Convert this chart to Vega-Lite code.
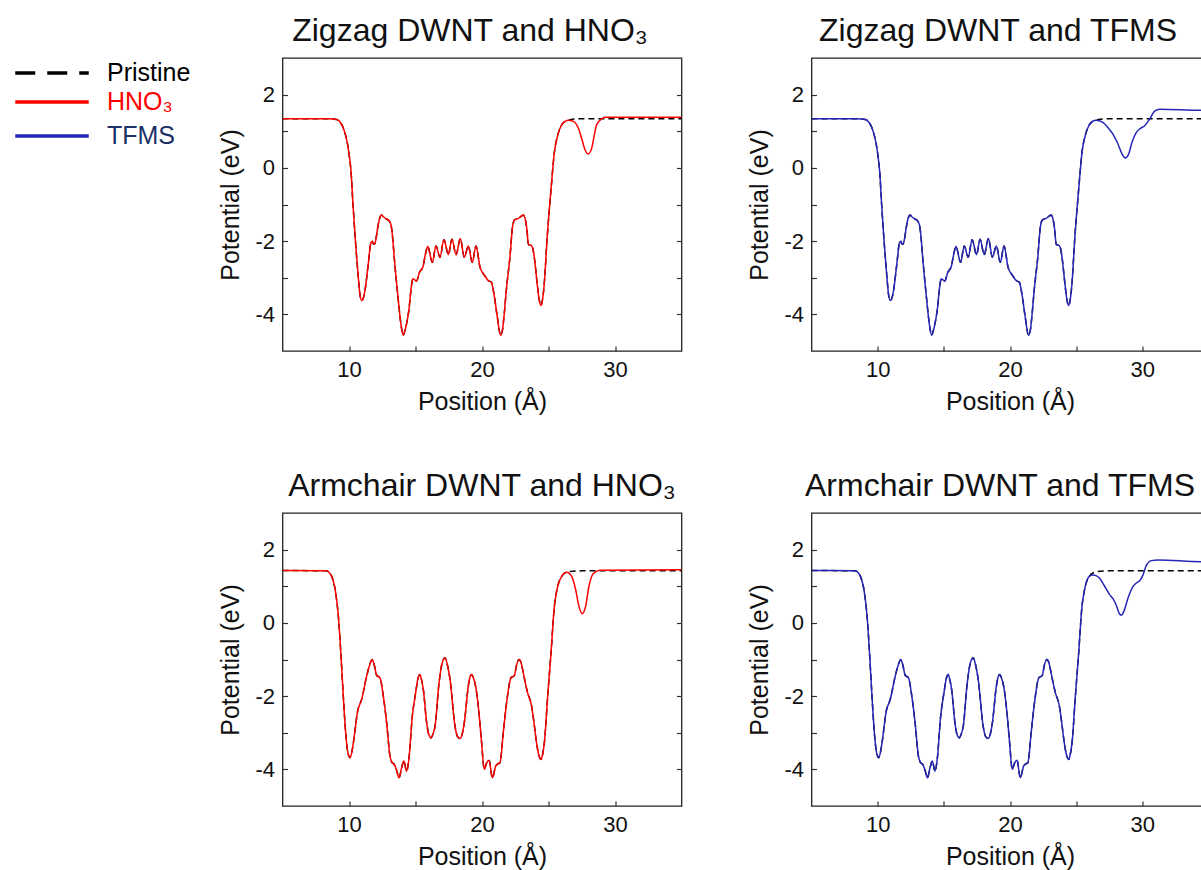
{
  "$schema": "https://vega.github.io/schema/vega-lite/v6.json",
  "autosize": {"type": "pad"},
  "padding": {"left": 36.5, "top": 14, "right": 0, "bottom": 0},
  "background": "white",
  "config": {
    "font": "Liberation Sans",
    "view": {"stroke": "#222222", "strokeWidth": 1.3},
    "axis": {
      "grid": false, "domain": false,
      "labelFont": "Liberation Sans", "titleFont": "Liberation Sans",
      "labelFontSize": 22, "titleFontSize": 25, "titleFontWeight": "normal",
      "labelColor": "#111111", "titleColor": "#111111",
      "tickColor": "#333333", "tickSize": -5, "tickWidth": 1.2
    },
    "legend": {"title": null, "orient": "none", "padding": 0, "symbolType": "M-3,0H3", "symbolSize": 600, "symbolStrokeWidth": 3.5, "labelFont": "Liberation Sans", "labelFontSize": 25, "labelOffset": 41},
    "title": {"font": "Liberation Sans", "fontSize": 32, "fontWeight": "normal", "color": "#111111", "offset": 10, "frame": "group"}
  },
  "datasets": {
    "zz": [
      {"x":5,"y":1.34,"g":"c"},{"x":8.5,"y":1.34,"g":"c"},{"x":9.07,"y":1.32,"g":"c"},{"x":9.35,"y":1.24,"g":"c"},{"x":9.57,"y":1.09,"g":"c"},{"x":9.75,"y":0.88,"g":"c"},{"x":9.9,"y":0.63,"g":"c"},{"x":10.05,"y":0.25,"g":"c"},{"x":10.15,"y":-0.09,"g":"c"},{"x":10.3,"y":-1.0,"g":"c"},{"x":10.5,"y":-2.08,"g":"c"},{"x":10.7,"y":-2.99,"g":"c"},{"x":10.82,"y":-3.45,"g":"c"},{"x":10.95,"y":-3.62,"g":"c"},{"x":11.08,"y":-3.55,"g":"c"},{"x":11.2,"y":-3.35,"g":"c"},{"x":11.45,"y":-2.62,"g":"c"},{"x":11.65,"y":-2.04,"g":"c"},{"x":11.75,"y":-2.0,"g":"c"},{"x":11.83,"y":-2.08,"g":"c"},{"x":11.92,"y":-2.08,"g":"c"},{"x":12.0,"y":-1.99,"g":"c"},{"x":12.2,"y":-1.54,"g":"c"},{"x":12.35,"y":-1.33,"g":"c"},{"x":12.45,"y":-1.29,"g":"c"},{"x":12.6,"y":-1.34,"g":"c"},{"x":12.83,"y":-1.4,"g":"c"},{"x":13.0,"y":-1.44,"g":"c"},{"x":13.16,"y":-1.56,"g":"c"},{"x":13.28,"y":-1.9,"g":"c"},{"x":13.4,"y":-2.44,"g":"c"},{"x":13.66,"y":-3.44,"g":"c"},{"x":13.9,"y":-4.25,"g":"c"},{"x":14.08,"y":-4.57,"g":"c"},{"x":14.2,"y":-4.45,"g":"c"},{"x":14.33,"y":-4.25,"g":"c"},{"x":14.5,"y":-3.89,"g":"c"},{"x":14.7,"y":-3.21,"g":"c"},{"x":14.8,"y":-3.03,"g":"c"},{"x":14.92,"y":-3.05,"g":"c"},{"x":15.07,"y":-3.09,"g":"c"},{"x":15.3,"y":-2.85,"g":"c"},{"x":15.56,"y":-2.7,"g":"c"},{"x":15.75,"y":-2.35,"g":"c"},{"x":15.92,"y":-2.15,"g":"c"},{"x":16.27,"y":-2.58,"g":"c"},{"x":16.54,"y":-2.13,"g":"c"},{"x":16.84,"y":-2.44,"g":"c"},{"x":17.14,"y":-1.96,"g":"c"},{"x":17.47,"y":-2.37,"g":"c"},{"x":17.74,"y":-1.95,"g":"c"},{"x":18.05,"y":-2.37,"g":"c"},{"x":18.37,"y":-1.93,"g":"c"},{"x":18.67,"y":-2.44,"g":"c"},{"x":18.97,"y":-2.13,"g":"c"},{"x":19.27,"y":-2.58,"g":"c"},{"x":19.55,"y":-2.13,"g":"c"},{"x":19.85,"y":-2.71,"g":"c"},{"x":20.2,"y":-2.94,"g":"c"},{"x":20.48,"y":-3.08,"g":"c"},{"x":20.7,"y":-3.12,"g":"c"},{"x":20.9,"y":-3.44,"g":"c"},{"x":21.15,"y":-4.07,"g":"c"},{"x":21.4,"y":-4.57,"g":"c"},{"x":21.55,"y":-4.4,"g":"c"},{"x":21.65,"y":-4.07,"g":"c"},{"x":21.85,"y":-3.26,"g":"c"},{"x":22.1,"y":-2.44,"g":"c"},{"x":22.3,"y":-1.6,"g":"c"},{"x":22.45,"y":-1.42,"g":"c"},{"x":22.73,"y":-1.38,"g":"c"},{"x":22.95,"y":-1.32,"g":"c"},{"x":23.1,"y":-1.29,"g":"c"},{"x":23.25,"y":-1.4,"g":"c"},{"x":23.36,"y":-1.63,"g":"c"},{"x":23.5,"y":-2.1,"g":"c"},{"x":23.6,"y":-2.1,"g":"c"},{"x":23.73,"y":-2.13,"g":"c"},{"x":23.85,"y":-2.25,"g":"c"},{"x":23.93,"y":-2.44,"g":"c"},{"x":24.18,"y":-3.26,"g":"c"},{"x":24.3,"y":-3.6,"g":"c"},{"x":24.43,"y":-3.76,"g":"c"},{"x":24.55,"y":-3.6,"g":"c"},{"x":24.68,"y":-3.17,"g":"c"},{"x":24.9,"y":-1.9,"g":"c"},{"x":25.2,"y":-0.54,"g":"c"},{"x":25.45,"y":0.45,"g":"c"},{"x":25.7,"y":0.9,"g":"c"},{"x":26.0,"y":1.18,"g":"c"},{"x":26.25,"y":1.27,"g":"c"},{"x":26.5,"y":1.3,"g":"c"},
      {"x":26.8,"y":1.33,"g":"p"},{"x":27.3,"y":1.34,"g":"p"},{"x":35,"y":1.34,"g":"p"},
      {"x":26.87,"y":1.27,"g":"h"},{"x":27.24,"y":1.09,"g":"h"},{"x":27.49,"y":0.81,"g":"h"},{"x":27.74,"y":0.5,"g":"h"},{"x":27.99,"y":0.38,"g":"h"},{"x":28.25,"y":0.54,"g":"h"},{"x":28.45,"y":0.9,"g":"h"},{"x":28.62,"y":1.18,"g":"h"},{"x":29.0,"y":1.34,"g":"h"},{"x":29.25,"y":1.38,"g":"h"},{"x":35,"y":1.38,"g":"h"},
      {"x":27.02,"y":1.24,"g":"t"},{"x":27.4,"y":1.1,"g":"t"},{"x":27.78,"y":0.92,"g":"t"},{"x":28.16,"y":0.65,"g":"t"},{"x":28.46,"y":0.38,"g":"t"},{"x":28.71,"y":0.27,"g":"t"},{"x":28.97,"y":0.38,"g":"t"},{"x":29.22,"y":0.7,"g":"t"},{"x":29.55,"y":0.97,"g":"t"},{"x":29.87,"y":1.08,"g":"t"},{"x":30.18,"y":1.15,"g":"t"},{"x":30.55,"y":1.33,"g":"t"},{"x":30.93,"y":1.55,"g":"t"},{"x":31.31,"y":1.6,"g":"t"},{"x":34.46,"y":1.57,"g":"t"},{"x":35,"y":1.57,"g":"t"}
    ],
    "ac": [
      {"x":5,"y":1.43,"g":"c"},{"x":8.3,"y":1.42,"g":"c"},{"x":8.5,"y":1.38,"g":"c"},{"x":8.7,"y":1.27,"g":"c"},{"x":9.0,"y":0.82,"g":"c"},{"x":9.2,"y":0.18,"g":"c"},{"x":9.4,"y":-0.91,"g":"c"},{"x":9.57,"y":-2.0,"g":"c"},{"x":9.75,"y":-3.0,"g":"c"},{"x":9.92,"y":-3.55,"g":"c"},{"x":10.08,"y":-3.68,"g":"c"},{"x":10.2,"y":-3.55,"g":"c"},{"x":10.33,"y":-3.27,"g":"c"},{"x":10.65,"y":-2.41,"g":"c"},{"x":10.95,"y":-2.09,"g":"c"},{"x":11.33,"y":-1.45,"g":"c"},{"x":11.6,"y":-1.1,"g":"c"},{"x":11.75,"y":-1.0,"g":"c"},{"x":11.9,"y":-1.15,"g":"c"},{"x":12.08,"y":-1.43,"g":"c"},{"x":12.33,"y":-1.5,"g":"c"},{"x":12.58,"y":-2.0,"g":"c"},{"x":12.83,"y":-2.73,"g":"c"},{"x":13.08,"y":-3.64,"g":"c"},{"x":13.25,"y":-3.82,"g":"c"},{"x":13.4,"y":-3.86,"g":"c"},{"x":13.6,"y":-4.05,"g":"c"},{"x":13.76,"y":-4.23,"g":"c"},{"x":13.96,"y":-3.95,"g":"c"},{"x":14.13,"y":-3.77,"g":"c"},{"x":14.33,"y":-4.05,"g":"c"},{"x":14.5,"y":-3.73,"g":"c"},{"x":14.76,"y":-2.55,"g":"c"},{"x":15.01,"y":-1.91,"g":"c"},{"x":15.2,"y":-1.5,"g":"c"},{"x":15.34,"y":-1.41,"g":"c"},{"x":15.45,"y":-1.55,"g":"c"},{"x":15.59,"y":-1.82,"g":"c"},{"x":15.84,"y":-2.73,"g":"c"},{"x":16.0,"y":-3.05,"g":"c"},{"x":16.17,"y":-3.14,"g":"c"},{"x":16.3,"y":-3.05,"g":"c"},{"x":16.47,"y":-2.82,"g":"c"},{"x":16.77,"y":-1.64,"g":"c"},{"x":17.0,"y":-1.1,"g":"c"},{"x":17.22,"y":-0.95,"g":"c"},{"x":17.4,"y":-1.15,"g":"c"},{"x":17.6,"y":-1.55,"g":"c"},{"x":17.97,"y":-2.82,"g":"c"},{"x":18.15,"y":-3.1,"g":"c"},{"x":18.35,"y":-3.16,"g":"c"},{"x":18.5,"y":-3.05,"g":"c"},{"x":18.67,"y":-2.73,"g":"c"},{"x":18.97,"y":-1.73,"g":"c"},{"x":19.1,"y":-1.48,"g":"c"},{"x":19.22,"y":-1.41,"g":"c"},{"x":19.35,"y":-1.5,"g":"c"},{"x":19.52,"y":-1.73,"g":"c"},{"x":19.77,"y":-2.45,"g":"c"},{"x":19.97,"y":-3.27,"g":"c"},{"x":20.17,"y":-4.0,"g":"c"},{"x":20.35,"y":-3.82,"g":"c"},{"x":20.53,"y":-3.75,"g":"c"},{"x":20.78,"y":-4.23,"g":"c"},{"x":21.03,"y":-3.91,"g":"c"},{"x":21.2,"y":-3.85,"g":"c"},{"x":21.35,"y":-3.82,"g":"c"},{"x":21.6,"y":-3.0,"g":"c"},{"x":21.85,"y":-2.18,"g":"c"},{"x":22.18,"y":-1.5,"g":"c"},{"x":22.43,"y":-1.44,"g":"c"},{"x":22.6,"y":-1.15,"g":"c"},{"x":22.78,"y":-1.0,"g":"c"},{"x":22.95,"y":-1.1,"g":"c"},{"x":23.1,"y":-1.36,"g":"c"},{"x":23.43,"y":-1.91,"g":"c"},{"x":23.73,"y":-2.27,"g":"c"},{"x":23.9,"y":-2.7,"g":"c"},{"x":24.1,"y":-3.27,"g":"c"},{"x":24.3,"y":-3.65,"g":"c"},{"x":24.44,"y":-3.73,"g":"c"},{"x":24.55,"y":-3.6,"g":"c"},{"x":24.69,"y":-3.27,"g":"c"},{"x":24.94,"y":-2.0,"g":"c"},{"x":25.19,"y":-0.82,"g":"c"},{"x":25.44,"y":0.45,"g":"c"},{"x":25.61,"y":0.86,"g":"c"},{"x":25.99,"y":1.27,"g":"c"},
      {"x":26.36,"y":1.38,"g":"p"},{"x":26.8,"y":1.41,"g":"p"},{"x":27.5,"y":1.42,"g":"p"},{"x":35,"y":1.42,"g":"p"},
      {"x":26.36,"y":1.38,"g":"h"},{"x":26.74,"y":1.27,"g":"h"},{"x":27.04,"y":0.91,"g":"h"},{"x":27.29,"y":0.45,"g":"h"},{"x":27.54,"y":0.25,"g":"h"},{"x":27.79,"y":0.45,"g":"h"},{"x":28.04,"y":1.0,"g":"h"},{"x":28.37,"y":1.35,"g":"h"},{"x":28.87,"y":1.44,"g":"h"},{"x":35,"y":1.45,"g":"h"},
      {"x":26.27,"y":1.31,"g":"t"},{"x":26.5,"y":1.29,"g":"t"},{"x":26.77,"y":1.22,"g":"t"},{"x":27.15,"y":1.0,"g":"t"},{"x":27.53,"y":0.77,"g":"t"},{"x":27.78,"y":0.66,"g":"t"},{"x":28.03,"y":0.48,"g":"t"},{"x":28.28,"y":0.24,"g":"t"},{"x":28.41,"y":0.21,"g":"t"},{"x":28.61,"y":0.32,"g":"t"},{"x":28.92,"y":0.68,"g":"t"},{"x":29.22,"y":0.95,"g":"t"},{"x":29.55,"y":1.09,"g":"t"},{"x":29.8,"y":1.15,"g":"t"},{"x":30.05,"y":1.31,"g":"t"},{"x":30.3,"y":1.57,"g":"t"},{"x":30.68,"y":1.7,"g":"t"},{"x":31.19,"y":1.72,"g":"t"},{"x":34.46,"y":1.67,"g":"t"},{"x":35,"y":1.67,"g":"t"}
    ]
  },
  "columns": 2,
  "bounds": "flush",
  "spacing": {"column": 130, "row": 162},
  "concat": [
    {
      "title": {"text": "Zigzag DWNT and HNO₃", "dx": -12},
      "width": 399, "height": 293,
      "data": {"name": "zz"},
      "resolve": {"axis": {"y": "independent"}, "scale": {"color": "independent"}},
      "layer": [
        {
          "transform": [{"filter": "datum.g === 'c' || datum.g === 'p'"}],
          "mark": {"type": "line", "interpolate": "monotone", "strokeWidth": 1.5, "strokeDash": [6, 4], "clip": true},
          "encoding": {
            "x": {"field": "x", "type": "quantitative", "scale": {"domain": [5, 35], "nice": false, "zero": false}, "axis": {"title": "Position (Å)", "values": [10, 15, 20, 25, 30], "labelExpr": "datum.value % 10 === 0 ? datum.label : ''", "labelPadding": 13, "titlePadding": 9}},
            "y": {"field": "y", "type": "quantitative", "scale": {"domain": [-5, 3], "nice": false, "zero": false}, "axis": {"orient": "left", "title": "Potential (eV)", "values": [-4, -3, -2, -1, 0, 1, 2], "labelExpr": "datum.value % 2 === 0 ? '' + datum.value : ''", "labelPadding": 13, "titlePadding": 11}},
            "color": {"datum": "Pristine", "type": "nominal", "scale": {"domain": ["Pristine"], "range": ["#000000"]},
              "legend": {"legendX": -244.5, "legendY": 1, "symbolDash": [20, 12], "labelColor": "#000000"}}
          }
        },
        {
          "transform": [{"filter": "datum.g === 'c' || datum.g === 'h'"}],
          "mark": {"type": "line", "interpolate": "monotone", "strokeWidth": 1.5, "clip": true},
          "encoding": {
            "x": {"field": "x", "type": "quantitative", "scale": {"domain": [5, 35], "nice": false, "zero": false}, "axis": {"title": "Position (Å)", "values": [10, 15, 20, 25, 30], "labelExpr": "datum.value % 10 === 0 ? datum.label : ''", "labelPadding": 13, "titlePadding": 9}},
            "y": {"field": "y", "type": "quantitative", "scale": {"domain": [-5, 3], "nice": false, "zero": false}, "axis": {"orient": "right", "title": null, "labels": false, "values": [-4, -3, -2, -1, 0, 1, 2]}},
            "color": {"datum": "HNO₃", "type": "nominal", "scale": {"domain": ["HNO₃"], "range": ["#ff0000"]},
              "legend": {"legendX": -244.5, "legendY": 30, "labelColor": "#ff0000"}}
          }
        }
      ]
    },
    {
      "title": {"text": "Zigzag DWNT and TFMS", "dx": -12},
      "width": 397, "height": 293,
      "data": {"name": "zz"},
      "resolve": {"axis": {"y": "independent"}, "scale": {"color": "independent"}},
      "layer": [
        {
          "transform": [{"filter": "datum.g === 'c' || datum.g === 'p'"}],
          "mark": {"type": "line", "interpolate": "monotone", "strokeWidth": 1.5, "strokeDash": [6, 4], "clip": true, "color": "#000000"},
          "encoding": {
            "x": {"field": "x", "type": "quantitative", "scale": {"domain": [5, 35], "nice": false, "zero": false}, "axis": {"title": "Position (Å)", "values": [10, 15, 20, 25, 30], "labelExpr": "datum.value % 10 === 0 ? datum.label : ''", "labelPadding": 13, "titlePadding": 9}},
            "y": {"field": "y", "type": "quantitative", "scale": {"domain": [-5, 3], "nice": false, "zero": false}, "axis": {"orient": "left", "title": "Potential (eV)", "values": [-4, -3, -2, -1, 0, 1, 2], "labelExpr": "datum.value % 2 === 0 ? '' + datum.value : ''", "labelPadding": 13, "titlePadding": 11}}
          }
        },
        {
          "transform": [{"filter": "datum.g === 'c' || datum.g === 't'"}],
          "mark": {"type": "line", "interpolate": "monotone", "strokeWidth": 1.5, "clip": true},
          "encoding": {
            "x": {"field": "x", "type": "quantitative", "scale": {"domain": [5, 35], "nice": false, "zero": false}, "axis": {"title": "Position (Å)", "values": [10, 15, 20, 25, 30], "labelExpr": "datum.value % 10 === 0 ? datum.label : ''", "labelPadding": 13, "titlePadding": 9}},
            "y": {"field": "y", "type": "quantitative", "scale": {"domain": [-5, 3], "nice": false, "zero": false}, "axis": {"orient": "right", "title": null, "labels": false, "values": [-4, -3, -2, -1, 0, 1, 2]}},
            "color": {"datum": "TFMS", "type": "nominal", "scale": {"domain": ["TFMS"], "range": ["#2626b8"]},
              "legend": {"legendX": -773.5, "legendY": 64, "labelColor": "#1c3068", "symbolStrokeColor": "#1c3068"}}
          }
        }
      ]
    },
    {
      "title": "Armchair DWNT and HNO₃",
      "width": 399, "height": 293,
      "data": {"name": "ac"},
      "resolve": {"axis": {"y": "independent"}},
      "layer": [
        {
          "transform": [{"filter": "datum.g === 'c' || datum.g === 'p'"}],
          "mark": {"type": "line", "interpolate": "monotone", "strokeWidth": 1.5, "strokeDash": [6, 4], "clip": true, "color": "#000000"},
          "encoding": {
            "x": {"field": "x", "type": "quantitative", "scale": {"domain": [5, 35], "nice": false, "zero": false}, "axis": {"title": "Position (Å)", "values": [10, 15, 20, 25, 30], "labelExpr": "datum.value % 10 === 0 ? datum.label : ''", "labelPadding": 13, "titlePadding": 9}},
            "y": {"field": "y", "type": "quantitative", "scale": {"domain": [-5, 3], "nice": false, "zero": false}, "axis": {"orient": "left", "title": "Potential (eV)", "values": [-4, -3, -2, -1, 0, 1, 2], "labelExpr": "datum.value % 2 === 0 ? '' + datum.value : ''", "labelPadding": 13, "titlePadding": 11}}
          }
        },
        {
          "transform": [{"filter": "datum.g === 'c' || datum.g === 'h'"}],
          "mark": {"type": "line", "interpolate": "monotone", "strokeWidth": 1.5, "clip": true, "color": "#ff0000"},
          "encoding": {
            "x": {"field": "x", "type": "quantitative", "scale": {"domain": [5, 35], "nice": false, "zero": false}, "axis": {"title": "Position (Å)", "values": [10, 15, 20, 25, 30], "labelExpr": "datum.value % 10 === 0 ? datum.label : ''", "labelPadding": 13, "titlePadding": 9}},
            "y": {"field": "y", "type": "quantitative", "scale": {"domain": [-5, 3], "nice": false, "zero": false}, "axis": {"orient": "right", "title": null, "labels": false, "values": [-4, -3, -2, -1, 0, 1, 2]}}
          }
        }
      ]
    },
    {
      "title": {"text": "Armchair DWNT and TFMS", "dx": -10},
      "width": 397, "height": 293,
      "data": {"name": "ac"},
      "resolve": {"axis": {"y": "independent"}},
      "layer": [
        {
          "transform": [{"filter": "datum.g === 'c' || datum.g === 'p'"}],
          "mark": {"type": "line", "interpolate": "monotone", "strokeWidth": 1.5, "strokeDash": [6, 4], "clip": true, "color": "#000000"},
          "encoding": {
            "x": {"field": "x", "type": "quantitative", "scale": {"domain": [5, 35], "nice": false, "zero": false}, "axis": {"title": "Position (Å)", "values": [10, 15, 20, 25, 30], "labelExpr": "datum.value % 10 === 0 ? datum.label : ''", "labelPadding": 13, "titlePadding": 9}},
            "y": {"field": "y", "type": "quantitative", "scale": {"domain": [-5, 3], "nice": false, "zero": false}, "axis": {"orient": "left", "title": "Potential (eV)", "values": [-4, -3, -2, -1, 0, 1, 2], "labelExpr": "datum.value % 2 === 0 ? '' + datum.value : ''", "labelPadding": 13, "titlePadding": 11}}
          }
        },
        {
          "transform": [{"filter": "datum.g === 'c' || datum.g === 't'"}],
          "mark": {"type": "line", "interpolate": "monotone", "strokeWidth": 1.5, "clip": true, "color": "#2626b8"},
          "encoding": {
            "x": {"field": "x", "type": "quantitative", "scale": {"domain": [5, 35], "nice": false, "zero": false}, "axis": {"title": "Position (Å)", "values": [10, 15, 20, 25, 30], "labelExpr": "datum.value % 10 === 0 ? datum.label : ''", "labelPadding": 13, "titlePadding": 9}},
            "y": {"field": "y", "type": "quantitative", "scale": {"domain": [-5, 3], "nice": false, "zero": false}, "axis": {"orient": "right", "title": null, "labels": false, "values": [-4, -3, -2, -1, 0, 1, 2]}}
          }
        }
      ]
    }
  ]
}
